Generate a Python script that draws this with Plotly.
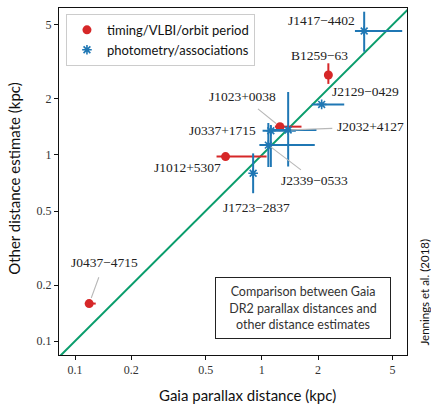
import math
import plotly.graph_objects as go

# ---- data ----
timing_names = ["J0437−4715", "J1012+5307", "J1023+0038", "B1259−63"]
timing_gaia = [0.119, 0.639, 1.25, 2.27]
timing_gaia_lo = [0.113, 0.572, 1.174, 2.27]
timing_gaia_hi = [0.129, 1.06, 1.63, 2.27]
timing_other = [0.159, 0.98, 1.42, 2.69]
timing_other_lo = [0.159, 0.98, 1.42, 2.41]
timing_other_hi = [0.159, 0.98, 1.42, 3.11]

phot_names = ["J0337+1715", "J2032+4127", "J2339−0533", "J1723−2837", "J2129−0429", "J1417−4402"]
phot_gaia = [1.117, 1.383, 1.083, 0.898, 2.09, 3.53]
phot_gaia_lo = [1.009, 1.10, 0.97, 0.88, 1.85, 3.15]
phot_gaia_hi = [1.52, 1.96, 1.92, 0.92, 2.76, 5.64]
phot_other = [1.35, 1.363, 1.13, 0.798, 1.87, 4.64]
phot_other_lo = [0.862, 0.867, 0.862, 0.623, 1.83, 3.59]
phot_other_hi = [1.45, 2.18, 1.486, 1.02, 1.91, 5.89]

tick_vals = [0.1, 0.2, 0.5, 1, 2, 5]
tick_text = ["0.1", "0.2", "0.5", "1", "2", "5"]
one_to_one = [0.01, 100]

RED = "#d62728"
BLUE = "#1f77b4"
GREEN = "#0a9d6c"
SERIF = "Liberation Serif"
SANS = "Lato"
LEADER = "#b8b8b8"
PX_PER_DECADE = 186.5


def minus(v, lo):
    return [a - b for a, b in zip(v, lo)]


def plus(v, hi):
    return [b - a for a, b in zip(v, hi)]


fig = go.Figure()

fig.add_trace(go.Scatter(x=one_to_one, y=one_to_one, mode="lines",
                         line=dict(color=GREEN, width=2), showlegend=False,
                         hoverinfo="skip"))

fig.add_trace(go.Scatter(
    x=timing_gaia, y=timing_other, mode="markers", name="timing/VLBI/orbit period",
    marker=dict(color=RED, size=9, symbol="circle"),
    error_x=dict(type="data", symmetric=False, array=plus(timing_gaia, timing_gaia_hi),
                 arrayminus=minus(timing_gaia, timing_gaia_lo), color=RED, thickness=2, width=0),
    error_y=dict(type="data", symmetric=False, array=plus(timing_other, timing_other_hi),
                 arrayminus=minus(timing_other, timing_other_lo), color=RED, thickness=2, width=0),
))

fig.add_trace(go.Scatter(
    x=phot_gaia, y=phot_other, mode="markers", name="photometry/associations",
    marker=dict(color=BLUE, size=8, symbol="asterisk-open", line=dict(color=BLUE, width=1.6)),
    error_x=dict(type="data", symmetric=False, array=plus(phot_gaia, phot_gaia_hi),
                 arrayminus=minus(phot_gaia, phot_gaia_lo), color=BLUE, thickness=2, width=0),
    error_y=dict(type="data", symmetric=False, array=plus(phot_other, phot_other_hi),
                 arrayminus=minus(phot_other, phot_other_lo), color=BLUE, thickness=2, width=0),
))

# label placement: (dx px, dy px (down positive), leader, standoff, startstandoff)
label_style = {
    "J0437−4715": (15, -41, True, 6, 6),
    "J1012+5307": (-38, 11, False, 0, 0),
    "J1023+0038": (-37, -30, True, 5, 5),
    "B1259−63": (-9, -20, False, 0, 0),
    "J0337+1715": (-48, 0, False, 0, 0),
    "J2032+4127": (82, -3, True, 3, 3),
    "J2339−0533": (46, 35, True, 3, 2),
    "J1723−2837": (3, 34, False, 0, 0),
    "J2129−0429": (44, -13, False, 0, 0),
    "J1417−4402": (-43, -11, False, 0, 0),
}

annotations = []
for names, xs, ys in ((timing_names, timing_gaia, timing_other), (phot_names, phot_gaia, phot_other)):
    for n, xv, yv in zip(names, xs, ys):
        dx, dy, leader, so, sso = label_style[n]
        lx, ly = math.log10(xv), math.log10(yv)
        annotations.append(dict(
            x=lx, y=ly, xref="x", yref="y", text=n, showarrow=True,
            axref="x", ayref="y",
            ax=lx + dx / PX_PER_DECADE, ay=ly - dy / PX_PER_DECADE,
            arrowhead=0, arrowwidth=1.1,
            arrowcolor=LEADER if leader else "rgba(0,0,0,0)",
            standoff=so, startstandoff=sso,
            font=dict(family=SERIF, size=13.5, color="#222")))

annotations += [
    dict(text="Gaia parallax distance (kpc)", xref="paper", yref="paper", x=0.543, y=-0.115,
         xanchor="center", yanchor="middle", showarrow=False,
         font=dict(family=SANS, size=15, color="#111")),
    dict(text="Other distance estimate (kpc)", xref="paper", yref="paper", x=-0.13, y=0.51,
         xanchor="center", yanchor="middle", showarrow=False, textangle=-90,
         font=dict(family=SANS, size=15, color="#111")),
    dict(text="Jennings et al. (2018)", xref="paper", yref="paper", x=1.049, y=0.18,
         xanchor="center", yanchor="middle", showarrow=False, textangle=-90,
         font=dict(family=SANS, size=11.5, color="#111")),
    dict(text="Comparison between Gaia<br>DR2 parallax distances and<br>other distance estimates",
         xref="paper", yref="paper", x=0.701, y=0.135, xanchor="center", yanchor="middle",
         showarrow=False, align="center", width=170, height=56, borderpad=2,
         bordercolor="#222", borderwidth=1, bgcolor="white",
         font=dict(family=SANS, size=12.5, color="#333")),
]

axis_common = dict(type="log", showline=True, linecolor="#111", linewidth=1, mirror=True,
                   ticks="outside", ticklen=4, tickcolor="#111", showgrid=False, zeroline=False,
                   tickvals=tick_vals, ticktext=tick_text,
                   tickfont=dict(family=SERIF, size=12, color="#333"))

fig.update_layout(
    width=431, height=408,
    margin=dict(l=59, r=24, t=8, b=53),
    paper_bgcolor="white", plot_bgcolor="white",
    xaxis=dict(range=[-1.086, 0.777], **axis_common),
    yaxis=dict(range=[-1.075, 0.79], **axis_common),
    legend=dict(x=0.02, y=0.983, xanchor="left", yanchor="top", bgcolor="white",
                bordercolor="#cccccc", borderwidth=1,
                font=dict(family=SANS, size=13, color="#111"), tracegroupgap=0),
    annotations=annotations,
    showlegend=True,
)

fig.write_html("out.html")
